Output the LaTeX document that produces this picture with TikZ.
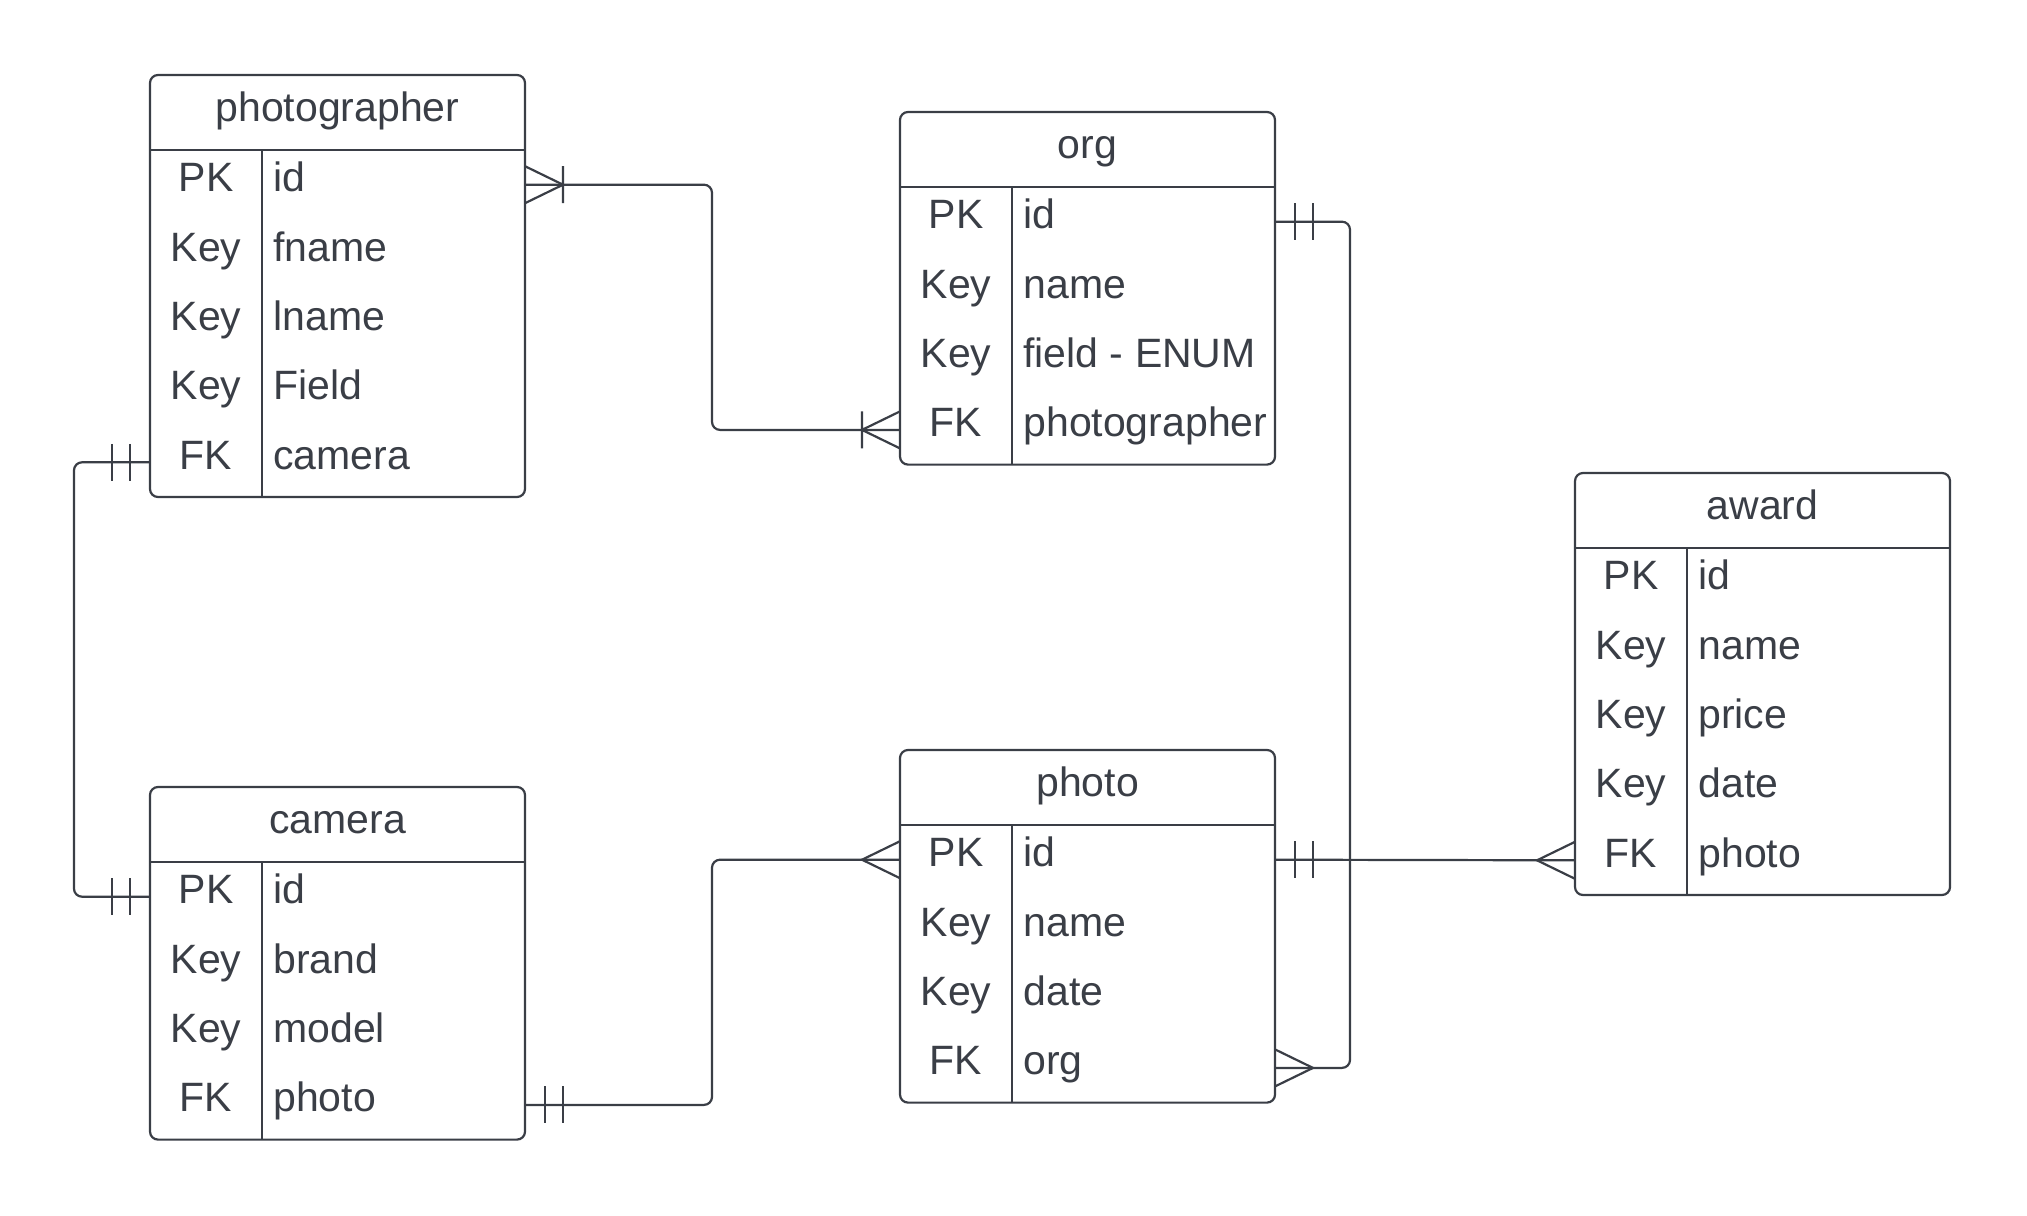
\documentclass[tikz,border=0pt]{standalone}
\usepackage{fontspec}
\setmainfont{Liberation Sans}
\definecolor{ink}{HTML}{3A3E46}

\begin{document}
\begin{tikzpicture}[x=0.5pt,y=-0.5pt,color=ink,font=\fontsize{20.5}{24}\selectfont,
    box/.style={line width=1.1pt,rounded corners=4pt},
    hline/.style={line width=0.8pt},
    vline/.style={line width=0.7pt},
    rowbox/.style={minimum width=187.5pt,minimum height=34.7pt,inner sep=0pt,outer sep=0pt},
    titletext/.style={anchor=base,inner sep=0pt},
    keytext/.style={anchor=base,inner sep=0pt},
    fieldtext/.style={anchor=base west,inner sep=0pt},
    link/.style={line width=1.1pt,rounded corners=4pt},
    many/.pic={\draw[line width=1.1pt] (0,-18.5) -- (38,0) -- (0,18.5);},
    onemany/.pic={\draw[line width=1.1pt] (0,-18.5) -- (38,0) -- (0,18.5) (38,-18.5) -- (38,18.5);},
    onlyone/.pic={\draw[line width=1.1pt] (20,-18.5) -- (20,18.5) (38,-18.5) -- (38,18.5);}]
    \useasboundingbox (0,0) rectangle (2027,1215);
    %photographer
    \begin{scope}[shift={(150,75)}]
      \draw[box] (0,0) rectangle (375,422);
      \draw[hline] (0,75) -- (375,75);
      \draw[vline] (112,75) -- (112,422);
      \node[titletext] (photographer) at (187.5,46) {photographer};
      \foreach \k/\f [count=\i] in {PK/id,Key/fname,Key/lname,Key/Field,FK/camera}
      {
        \node[rowbox] (photographer-\i) at (187.5,{75+69.4*(\i-0.5)}) {};
        \node[keytext] at (56,{82+69.4*(\i-0.5)}) {\k};
        \node[fieldtext] at (123,{82+69.4*(\i-0.5)}) {\f};
      }
    \end{scope}
    %org
    \begin{scope}[shift={(900,112)}]
      \draw[box] (0,0) rectangle (375,352.6);
      \draw[hline] (0,75) -- (375,75);
      \draw[vline] (112,75) -- (112,352.6);
      \node[titletext] (org) at (187.5,46) {org};
      \foreach \k/\f [count=\i] in {PK/id,Key/name,Key/field - ENUM,FK/photographer}
      {
        \node[rowbox] (org-\i) at (187.5,{75+69.4*(\i-0.5)}) {};
        \node[keytext] at (56,{82+69.4*(\i-0.5)}) {\k};
        \node[fieldtext] at (123,{82+69.4*(\i-0.5)}) {\f};
      }
    \end{scope}
    %camera
    \begin{scope}[shift={(150,787)}]
      \draw[box] (0,0) rectangle (375,352.6);
      \draw[hline] (0,75) -- (375,75);
      \draw[vline] (112,75) -- (112,352.6);
      \node[titletext] (camera) at (187.5,46) {camera};
      \foreach \k/\f [count=\i] in {PK/id,Key/brand,Key/model,FK/photo}
      {
        \node[rowbox] (camera-\i) at (187.5,{75+69.4*(\i-0.5)}) {};
        \node[keytext] at (56,{82+69.4*(\i-0.5)}) {\k};
        \node[fieldtext] at (123,{82+69.4*(\i-0.5)}) {\f};
      }
    \end{scope}
    %photo
    \begin{scope}[shift={(900,750)}]
      \draw[box] (0,0) rectangle (375,352.6);
      \draw[hline] (0,75) -- (375,75);
      \draw[vline] (112,75) -- (112,352.6);
      \node[titletext] (photo) at (187.5,46) {photo};
      \foreach \k/\f [count=\i] in {PK/id,Key/name,Key/date,FK/org}
      {
        \node[rowbox] (photo-\i) at (187.5,{75+69.4*(\i-0.5)}) {};
        \node[keytext] at (56,{82+69.4*(\i-0.5)}) {\k};
        \node[fieldtext] at (123,{82+69.4*(\i-0.5)}) {\f};
      }
    \end{scope}
    %award
    \begin{scope}[shift={(1575,473)}]
      \draw[box] (0,0) rectangle (375,422);
      \draw[hline] (0,75) -- (375,75);
      \draw[vline] (112,75) -- (112,422);
      \node[titletext] (award) at (187.5,46) {award};
      \foreach \k/\f [count=\i] in {PK/id,Key/name,Key/price,Key/date,FK/photo}
      {
        \node[rowbox] (award-\i) at (187.5,{75+69.4*(\i-0.5)}) {};
        \node[keytext] at (56,{82+69.4*(\i-0.5)}) {\k};
        \node[fieldtext] at (123,{82+69.4*(\i-0.5)}) {\f};
      }
    \end{scope}
    %relations
    \draw[link] (photographer-1.east) -- ++(187,0) |- (org-4.west);
    \draw[link] (org-1.east) -- ++(75,0) |- (photo-4.east);
    \draw[link] (photo-1.east) -- (award-5.west);
    \draw[link] (photographer-5.west) -- ++(-76,0) |- (camera-1.west);
    \draw[link] (camera-4.east) -- ++(187,0) |- (photo-1.west);
    \pic at (photographer-1.east) {onemany};
    \pic[xscale=-1] at (org-4.west) {onemany};
    \pic at (org-1.east) {onlyone};
    \pic at (photo-4.east) {many};
    \pic at (photo-1.east) {onlyone};
    \pic[xscale=-1] at (award-5.west) {many};
    \pic[xscale=-1] at (photographer-5.west) {onlyone};
    \pic[xscale=-1] at (camera-1.west) {onlyone};
    \pic at (camera-4.east) {onlyone};
    \pic[xscale=-1] at (photo-1.west) {many};
  \end{tikzpicture}
\end{document}
